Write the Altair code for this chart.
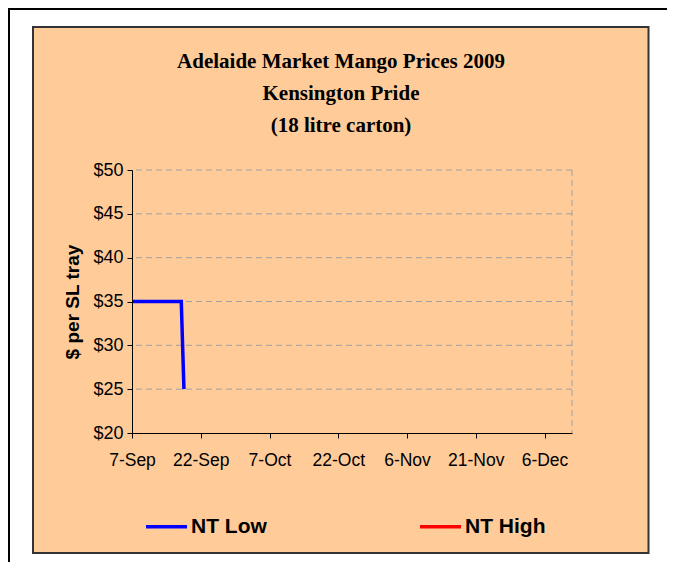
import altair as alt
import pandas as pd

# ---- data ----
series_names = ["NT Low", "NT High"]
series_colors = ["#0000FF", "#FF0000"]
low_dates = ["2009-09-07T00:00:00Z", "2009-09-17T18:00:00Z", "2009-09-18T08:00:00Z"]
low_prices = [35, 35, 25]
high_dates = []
high_prices = []
y_ticks = [20, 25, 30, 35, 40, 45, 50]
x_ticks = ["2009-09-07", "2009-09-22", "2009-10-07", "2009-10-22",
           "2009-11-06", "2009-11-21", "2009-12-06"]
x_domain = ["2009-09-07", "2009-12-12"]
title_lines = ["Adelaide Market Mango Prices 2009", "Kensington Pride", "(18 litre carton)"]


def dt(s):
    y, m, d = (int(p) for p in s.split("-"))
    return alt.DateTime(year=y, month=m, date=d, utc=True)


rows = []
for d, p in zip(low_dates, low_prices):
    rows.append({"date": d, "price": p, "series": series_names[0]})
for d, p in zip(high_dates, high_prices):
    rows.append({"date": d, "price": p, "series": series_names[1]})
df = pd.DataFrame(rows, columns=["date", "price", "series"])

W, H = 440, 263
FONT = "Liberation Sans"

x_enc = alt.X(
    "date:T",
    scale=alt.Scale(type="utc", domain=[dt(s) for s in x_domain]),
    axis=alt.Axis(
        values=[dt(s) for s in x_ticks], format="%-d-%b", title=None, grid=False,
        zindex=1, domainColor="black", tickColor="black", tickSize=5,
        labelFont=FONT, labelFontSize=17.5, labelColor="black", labelPadding=13,
        labelFlush=False,
    ),
)
y_enc = alt.Y(
    "price:Q",
    scale=alt.Scale(domain=[y_ticks[0], y_ticks[-1]], nice=False, zero=False),
    axis=alt.Axis(
        values=y_ticks, format="$.0f", title="$ per SL tray", grid=False,
        zindex=1, domainColor="black", tickColor="black", tickSize=5,
        labelFont=FONT, labelFontSize=18, labelColor="black", labelPadding=4,
        titleFont=FONT, titleFontSize=19, titleFontWeight="bold", titleColor="black",
        titlePadding=10, labelFlush=False,
    ),
)

one = alt.Data(values=[{}])

panel = alt.Chart(one).mark_rect(fill="#FFCC99", stroke="#333333", strokeWidth=2).encode(
    x=alt.value(-99), x2=alt.value(516.5), y=alt.value(-143), y2=alt.value(383)
)
outer_left = alt.Chart(one).mark_rect(fill="black").encode(
    x=alt.value(-124), x2=alt.value(-122), y=alt.value(-162), y2=alt.value(400)
)
outer_top = alt.Chart(one).mark_rect(fill="black").encode(
    x=alt.value(-124), x2=alt.value(540), y=alt.value(-162), y2=alt.value(-160)
)

grid_df = pd.DataFrame({"price": y_ticks[1:]})
grid = alt.Chart(grid_df).mark_rule(color="#A0A0A0", strokeDash=[6, 4], strokeWidth=1).encode(
    y=y_enc
)
right_border = alt.Chart(one).mark_rule(color="#A0A0A0", strokeDash=[6, 4], strokeWidth=1).encode(
    x=alt.value(W), y=alt.value(0), y2=alt.value(H)
)

line = alt.Chart(df).mark_line(strokeWidth=3.5).encode(
    x=x_enc,
    y=y_enc,
    color=alt.Color(
        "series:N",
        scale=alt.Scale(domain=series_names, range=series_colors),
        legend=alt.Legend(
            title=None, orient="none", legendX=12, legendY=334, direction="horizontal",
            symbolType="stroke", symbolSize=1681, symbolStrokeWidth=3.5,
            labelFont=FONT, labelFontSize=21, labelFontWeight="bold", labelColor="black",
            labelOffset=2, columnPadding=146, padding=0, labelLimit=300,
        ),
    ),
)

title = alt.Chart(one).mark_text(
    font="Liberation Serif", fontSize=21, fontWeight="bold", color="black",
    align="center", baseline="alphabetic", lineHeight=32,
).encode(x=alt.value(209), y=alt.value(-102), text=alt.value(title_lines))

chart = alt.layer(
    panel, outer_left, outer_top, grid, right_border, line, title
).properties(
    width=W, height=H,
    autosize="none",
    padding={"left": 124, "top": 162, "right": 95, "bottom": 129},
    background="white",
).configure_view(stroke="transparent")

chart.save("out.html", embed_options={"renderer": "svg", "actions": False})
